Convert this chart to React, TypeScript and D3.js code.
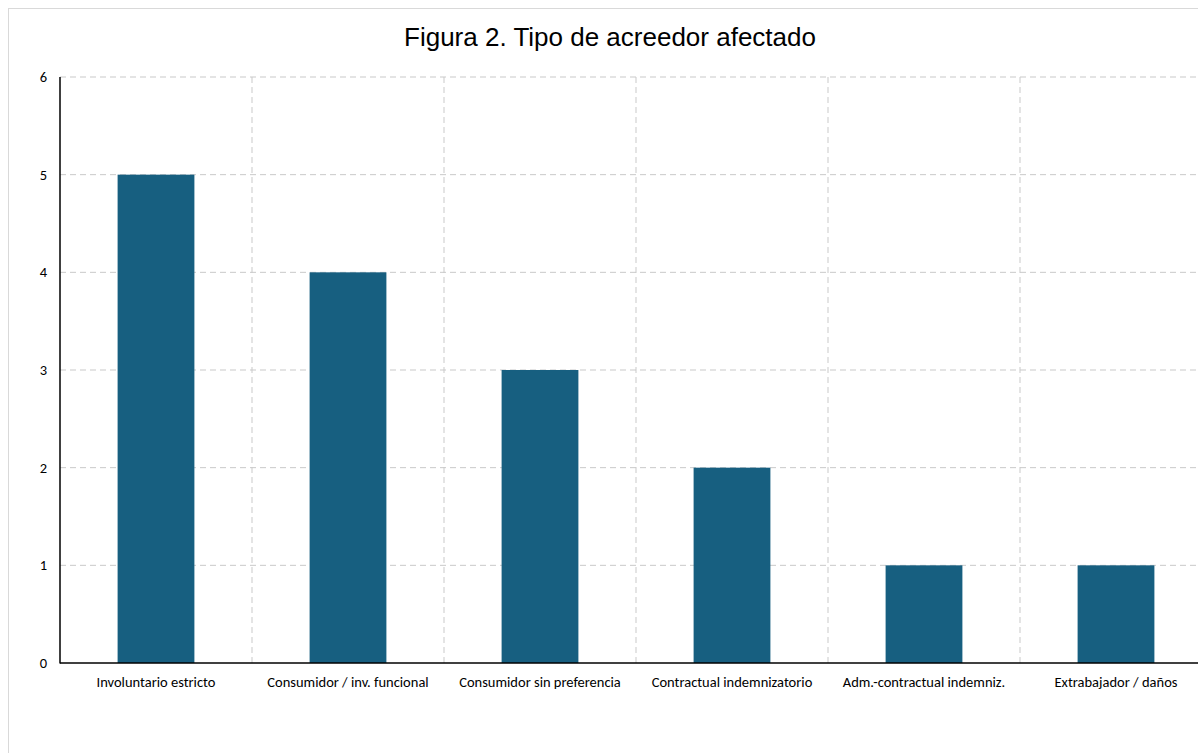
import React from "react";
import * as d3 from "d3";

const categories = [
  "Involuntario estricto",
  "Consumidor / inv. funcional",
  "Consumidor sin preferencia",
  "Contractual indemnizatorio",
  "Adm.-contractual indemniz.",
  "Extrabajador / daños",
];
const values = [5, 4, 3, 2, 1, 1];
const yTicks = [0, 1, 2, 3, 4, 5, 6];
const title = "Figura 2. Tipo de acreedor afectado";

export default function App() {
  const W = 1198;
  const H = 753;
  const left = 60;
  const right = 1212;
  const top = 77;
  const bottom = 663;

  const x = d3.scaleBand<string>().domain(categories).range([left, right]).padding(0);
  const y = d3.scaleLinear().domain([0, 6]).range([bottom, top]);
  const barW = x.bandwidth() * 0.4;
  const labelFont = "Carlito, Calibri, 'Open Sans', sans-serif";

  return (
    <div style={{ position: "absolute", left: 0, top: 0, width: W, height: H, overflow: "hidden", background: "#fff" }}>
      <svg width={W} height={H} style={{ display: "block" }}>
        <rect x={8.5} y={8.5} width={1240} height={800} fill="#fff" stroke="#d9d9d9" strokeWidth={1} />
        <text x={610} y={46} textAnchor="middle" fontFamily="'Liberation Sans', Arial, sans-serif" fontSize={26} fill="#000">
          {title}
        </text>
        {yTicks.map((t) =>
          t > 0 ? (
            <line key={"h" + t} x1={left} x2={right} y1={y(t)} y2={y(t)} stroke="#c9c9c9" strokeWidth={1} strokeDasharray="6,4" />
          ) : null
        )}
        {categories.map((c, i) => (
          <line key={"v" + i} x1={(x(c) as number) + x.bandwidth()} x2={(x(c) as number) + x.bandwidth()} y1={top} y2={bottom} stroke="#c9c9c9" strokeWidth={1} strokeDasharray="6,4" />
        ))}
        {categories.map((c, i) => (
          <rect key={"b" + i} x={(x(c) as number) + x.bandwidth() / 2 - barW / 2} y={y(values[i])} width={barW} height={y(0) - y(values[i])} fill="#175f80" />
        ))}
        <line x1={left} x2={left} y1={top} y2={bottom + 0.5} stroke="#000" strokeWidth={1.5} />
        <line x1={left} x2={right} y1={bottom} y2={bottom} stroke="#000" strokeWidth={1.5} />
        {yTicks.map((t) => (
          <text key={"yl" + t} x={47} y={y(t)} dy="0.35em" textAnchor="end" fontFamily={labelFont} fontSize={14.5} fill="#000">
            {t}
          </text>
        ))}
        {categories.map((c, i) => (
          <text key={"xl" + i} x={(x(c) as number) + x.bandwidth() / 2} y={682} dy="0.35em" textAnchor="middle" fontFamily={labelFont} fontSize={14.5} fill="#000">
            {c}
          </text>
        ))}
      </svg>
    </div>
  );
}
